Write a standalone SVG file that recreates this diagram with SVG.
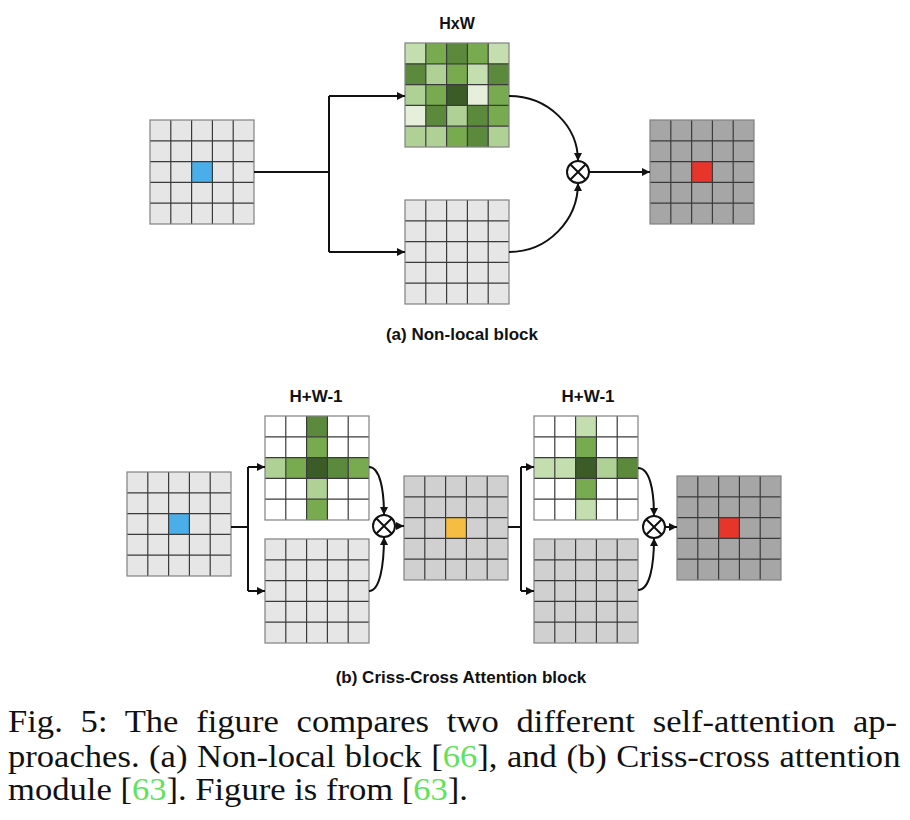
<svg xmlns="http://www.w3.org/2000/svg" xmlns:xlink="http://www.w3.org/1999/xlink" width="910" height="820" viewBox="0 0 910 820">
<style>
.bgL{fill:#e6e6e6}
.bgM{fill:#d0d0d0}
.bgD{fill:#a6a6a6}
.bgW{fill:#ffffff}
.L1{fill:#c5deb0}
.L2{fill:#afd196}
.M{fill:#78ab4f}
.D{fill:#5b8a3c}
.VD{fill:#3b5b27}
.VL{fill:#e5efdb}
.blue{fill:#4aaee8}
.red{fill:#e8352b}
.orange{fill:#f5bd41}
.conn{fill:none;stroke:#111;stroke-width:2}
.arr{marker-end:url(#ah)}
.otimes circle{fill:#fff;stroke:#111;stroke-width:2}
.otimes path{stroke:#111;stroke-width:2}
.lbl{font-family:"Liberation Sans",Arial,sans-serif;font-weight:bold;fill:#111;text-anchor:middle}
.cap{font-family:"Liberation Serif","Times New Roman",serif;font-size:31px;fill:#111}
.g{fill:#5ee35a}
</style>
<defs>
<marker id="ah" viewBox="0 0 8 8" refX="8" refY="4" markerWidth="4" markerHeight="4" orient="auto" markerUnits="strokeWidth">
<path d="M0 0L8 4L0 8z" fill="#111"/>
</marker>
<g id="lines">
<path d="M20.8 0V104M41.6 0V104M62.4 0V104M83.2 0V104M0 20.8H104M0 41.6H104M0 62.4H104M0 83.2H104" stroke="#3a3a3a" stroke-width="1.2" fill="none"/>
<rect width="104" height="104" fill="none" stroke="#808080" stroke-width="1.2"/>
</g>
</defs>

<!-- (a) Non-local block -->
<g id="input-a" transform="translate(150,120)">
<rect class="bgL" width="104" height="104"/>
<rect class="blue" x="41.6" y="41.6" width="20.8" height="20.8"/>
<use href="#lines"/>
</g>
<g id="attn-hxw" transform="translate(405,43)">
<rect class="L1" x="0" y="0" width="20.8" height="20.8"/><rect class="M" x="20.8" y="0" width="20.8" height="20.8"/><rect class="D" x="41.6" y="0" width="20.8" height="20.8"/><rect class="M" x="62.4" y="0" width="20.8" height="20.8"/><rect class="L1" x="83.2" y="0" width="20.8" height="20.8"/>
<rect class="D" x="0" y="20.8" width="20.8" height="20.8"/><rect class="L2" x="20.8" y="20.8" width="20.8" height="20.8"/><rect class="M" x="41.6" y="20.8" width="20.8" height="20.8"/><rect class="L1" x="62.4" y="20.8" width="20.8" height="20.8"/><rect class="D" x="83.2" y="20.8" width="20.8" height="20.8"/>
<rect class="L2" x="0" y="41.6" width="20.8" height="20.8"/><rect class="M" x="20.8" y="41.6" width="20.8" height="20.8"/><rect class="VD" x="41.6" y="41.6" width="20.8" height="20.8"/><rect class="VL" x="62.4" y="41.6" width="20.8" height="20.8"/><rect class="M" x="83.2" y="41.6" width="20.8" height="20.8"/>
<rect class="VL" x="0" y="62.4" width="20.8" height="20.8"/><rect class="D" x="20.8" y="62.4" width="20.8" height="20.8"/><rect class="L2" x="41.6" y="62.4" width="20.8" height="20.8"/><rect class="D" x="62.4" y="62.4" width="20.8" height="20.8"/><rect class="M" x="83.2" y="62.4" width="20.8" height="20.8"/>
<rect class="L2" x="0" y="83.2" width="20.8" height="20.8"/><rect class="L2" x="20.8" y="83.2" width="20.8" height="20.8"/><rect class="M" x="41.6" y="83.2" width="20.8" height="20.8"/><rect class="D" x="62.4" y="83.2" width="20.8" height="20.8"/><rect class="L2" x="83.2" y="83.2" width="20.8" height="20.8"/>
<use href="#lines"/>
</g>
<g id="value-a" transform="translate(405,200)">
<rect class="bgL" width="104" height="104"/>
<use href="#lines"/>
</g>
<g id="output-a" transform="translate(650,120)">
<rect class="bgD" width="104" height="104"/>
<rect class="red" x="41.6" y="41.6" width="20.8" height="20.8"/>
<use href="#lines"/>
</g>
<g id="mul-a" class="otimes" transform="translate(578,172)">
<circle r="11"/>
<path d="M-7.8 -7.8L7.8 7.8M-7.8 7.8L7.8 -7.8"/>
</g>

<!-- (b) Criss-Cross Attention block -->
<g id="input-b" transform="translate(127,472)">
<rect class="bgL" width="104" height="104"/>
<rect class="blue" x="41.6" y="41.6" width="20.8" height="20.8"/>
<use href="#lines"/>
</g>
<g id="attn-cc1" transform="translate(265,416)">
<rect class="bgW" width="104" height="104"/>
<rect class="D" x="41.6" y="0" width="20.8" height="20.8"/>
<rect class="M" x="41.6" y="20.8" width="20.8" height="20.8"/>
<rect class="L2" x="0" y="41.6" width="20.8" height="20.8"/><rect class="M" x="20.8" y="41.6" width="20.8" height="20.8"/><rect class="VD" x="41.6" y="41.6" width="20.8" height="20.8"/><rect class="D" x="62.4" y="41.6" width="20.8" height="20.8"/><rect class="M" x="83.2" y="41.6" width="20.8" height="20.8"/>
<rect class="L2" x="41.6" y="62.4" width="20.8" height="20.8"/>
<rect class="M" x="41.6" y="83.2" width="20.8" height="20.8"/>
<use href="#lines"/>
</g>
<g id="value-b1" transform="translate(265,539)">
<rect class="bgL" width="104" height="104"/>
<use href="#lines"/>
</g>
<g id="mul-b1" class="otimes" transform="translate(384,526)">
<circle r="11"/>
<path d="M-7.8 -7.8L7.8 7.8M-7.8 7.8L7.8 -7.8"/>
</g>
<g id="mid-b" transform="translate(404,476)">
<rect class="bgM" width="104" height="104"/>
<rect class="orange" x="41.6" y="41.6" width="20.8" height="20.8"/>
<use href="#lines"/>
</g>
<g id="attn-cc2" transform="translate(534,416)">
<rect class="bgW" width="104" height="104"/>
<rect class="L1" x="41.6" y="0" width="20.8" height="20.8"/>
<rect class="M" x="41.6" y="20.8" width="20.8" height="20.8"/>
<rect class="L1" x="0" y="41.6" width="20.8" height="20.8"/><rect class="L1" x="20.8" y="41.6" width="20.8" height="20.8"/><rect class="VD" x="41.6" y="41.6" width="20.8" height="20.8"/><rect class="L2" x="62.4" y="41.6" width="20.8" height="20.8"/><rect class="D" x="83.2" y="41.6" width="20.8" height="20.8"/>
<rect class="M" x="41.6" y="62.4" width="20.8" height="20.8"/>
<rect class="L1" x="41.6" y="83.2" width="20.8" height="20.8"/>
<use href="#lines"/>
</g>
<g id="value-b2" transform="translate(534,539)">
<rect class="bgM" width="104" height="104"/>
<use href="#lines"/>
</g>
<g id="mul-b2" class="otimes" transform="translate(654,527)">
<circle r="11"/>
<path d="M-7.8 -7.8L7.8 7.8M-7.8 7.8L7.8 -7.8"/>
</g>
<g id="output-b" transform="translate(677,476)">
<rect class="bgD" width="104" height="104"/>
<rect class="red" x="41.6" y="41.6" width="20.8" height="20.8"/>
<use href="#lines"/>
</g>

<!-- connectors -->
<g id="connectors">
<path class="conn" d="M254 172H329M329 96V252"/>
<path class="conn arr" d="M329 96H405"/>
<path class="conn arr" d="M329 252H405"/>
<path class="conn arr" d="M509 96C548 96 578 126 578 161"/>
<path class="conn arr" d="M509 252C548 252 578 220 578 183"/>
<path class="conn arr" d="M589 172H650"/>

<path class="conn" d="M231 527H248M248 467V591"/>
<path class="conn arr" d="M248 467H265"/>
<path class="conn arr" d="M248 591H265"/>
<path class="conn arr" d="M369 467C380 467 384 490 384 515"/>
<path class="conn arr" d="M369 591C380 591 384 565 384 537"/>
<path class="conn arr" d="M395 526H404"/>

<path class="conn" d="M508 527H521M521 467V591"/>
<path class="conn arr" d="M521 467H534"/>
<path class="conn arr" d="M521 591H534"/>
<path class="conn arr" d="M638 468C650 468 654 491 654 516"/>
<path class="conn arr" d="M638 590C650 590 654 565 654 538"/>
<path class="conn arr" d="M665 527H677"/>
</g>

<!-- labels -->
<text class="lbl" x="457" y="29" font-size="16">HxW</text>
<text class="lbl" x="462" y="340" font-size="17">(a) Non-local block</text>
<text class="lbl" x="316" y="402" font-size="17">H+W-1</text>
<text class="lbl" x="588" y="402" font-size="17">H+W-1</text>
<text class="lbl" x="461" y="683" font-size="17">(b) Criss-Cross Attention block</text>

<!-- figure caption -->
<g id="caption" transform="scale(1.116,1)">
<text class="cap" x="7.2" y="732" style="word-spacing:8.2px">Fig. 5: The figure compares two different self-attention ap-</text>
<text class="cap" x="7.2" y="767" style="word-spacing:0.8px">proaches. (a) Non-local block [<tspan class="g">66</tspan>], and (b) Criss-cross attention</text>
<text class="cap" x="7.2" y="800">module [<tspan class="g">63</tspan>]. Figure is from [<tspan class="g">63</tspan>].</text>
</g>
</svg>
